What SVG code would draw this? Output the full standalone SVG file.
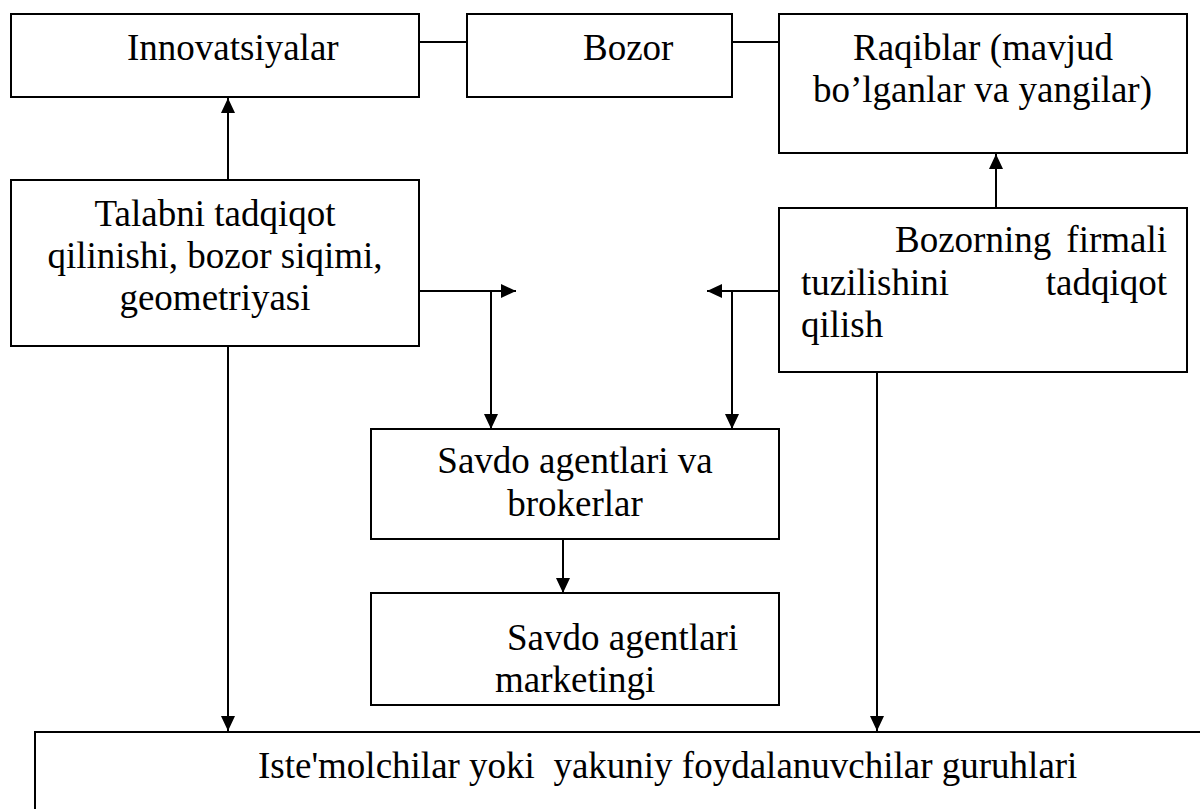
<svg xmlns="http://www.w3.org/2000/svg" width="1200" height="809" viewBox="0 0 1200 809">
<style>
.box{fill:#fff;stroke:#000;stroke-width:2}
text{font-family:'Liberation Serif','Times New Roman','DejaVu Serif',serif;font-size:37px;fill:#000}
.m{text-anchor:middle}
.e{text-anchor:end}
.ln{fill:none;stroke:#000;stroke-width:2}
</style>
<defs>
<marker id="ah" markerUnits="userSpaceOnUse" markerWidth="15" markerHeight="14" refX="15" refY="7" orient="auto">
<path d="M0,0 L15,7 L0,14 z" fill="#000"/>
</marker>
</defs>
<rect width="1200" height="809" fill="#fff"/>
<g id="connectors">
<path class="ln" d="M419,42 H467"/>
<path class="ln" d="M732,42 H779"/>
<path class="ln" d="M228,180 V98" marker-end="url(#ah)"/>
<path class="ln" d="M996,208 V154" marker-end="url(#ah)"/>
<path class="ln" d="M419,291 H516" marker-end="url(#ah)"/>
<path class="ln" d="M491,291 V429" marker-end="url(#ah)"/>
<path class="ln" d="M779,291 H707" marker-end="url(#ah)"/>
<path class="ln" d="M732,291 V429" marker-end="url(#ah)"/>
<path class="ln" d="M563,539 V593" marker-end="url(#ah)"/>
<path class="ln" d="M228,346 V731" marker-end="url(#ah)"/>
<path class="ln" d="M877,372 V731" marker-end="url(#ah)"/>
</g>
<g font-family="Liberation Serif, serif">
<g id="innovatsiyalar">
<rect class="box" x="11" y="14" width="408" height="83"/>
<text x="127" y="60">Innovatsiyalar</text>
</g>
<g id="bozor">
<rect class="box" x="467" y="14" width="265" height="83"/>
<text x="583" y="60">Bozor</text>
</g>
<g id="raqiblar">
<rect class="box" x="779" y="14" width="408" height="139"/>
<text x="853" y="60">Raqiblar (mavjud</text>
<text x="813" y="102">bo’lganlar va yangilar)</text>
</g>
<g id="talabni">
<rect class="box" x="11" y="180" width="408" height="166"/>
<text class="m" x="215" y="226">Talabni tadqiqot</text>
<text class="m" x="215" y="268">qilinishi, bozor siqimi,</text>
<text class="m" x="215" y="310">geometriyasi</text>
</g>
<g id="bozorning">
<rect class="box" x="779" y="208" width="408" height="164"/>
<text x="895" y="252">Bozorning</text>
<text class="e" x="1167" y="252">firmali</text>
<text x="801" y="295">tuzilishini</text>
<text class="e" x="1167" y="295">tadqiqot</text>
<text x="801" y="337">qilish</text>
</g>
<g id="brokerlar">
<rect class="box" x="371" y="429" width="408" height="110"/>
<text class="m" x="575" y="473">Savdo agentlari va</text>
<text class="m" x="575" y="516">brokerlar</text>
</g>
<g id="marketingi">
<rect class="box" x="371" y="593" width="408" height="112"/>
<text x="507" y="650">Savdo agentlari</text>
<text x="495" y="692">marketingi</text>
</g>
<g id="guruhlar">
<rect class="box" x="35" y="732" width="1200" height="120"/>
<text x="258" y="778" style="white-space:pre">Iste'molchilar yoki  yakuniy foydalanuvchilar guruhlari</text>
</g>
</g>
</svg>
